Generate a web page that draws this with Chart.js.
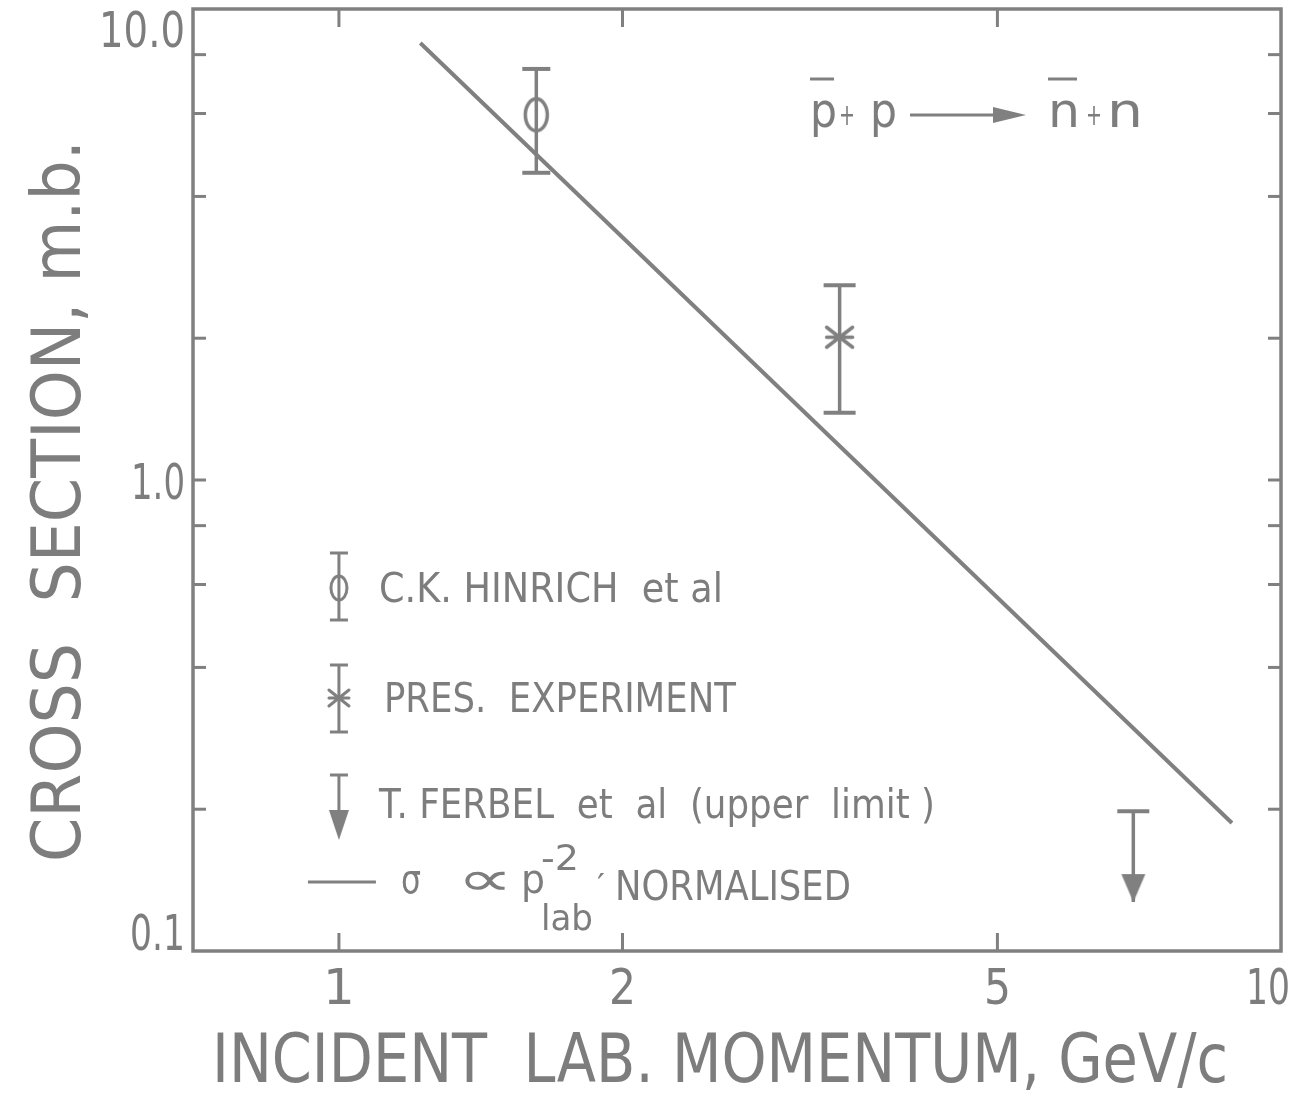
<!DOCTYPE html>
<html><head><meta charset="utf-8">
<script src="https://cdn.jsdelivr.net/npm/chart.js@4"></script>
<style>html,body{margin:0;padding:0;background:#fff}canvas{display:block}</style>
</head><body>
<canvas id="c" width="1289" height="1097"></canvas>
<script>
// ---- data ----
const hinrichP = [1.62];
const hinrichSigma = [5.96];
const hinrichLow = [4.49];
const hinrichHigh = [7.46];

const presP = [3.40];
const presSigma = [2.01];
const presLow = [1.39];
const presHigh = [2.59];

const ferbelP = [6.97];
const ferbelLimit = [0.198];
const ferbelArrowTip = [0.127];

const fitP = [1.22, 8.87];
const fitSigma = [8.47, 0.187];

const xTickValues = [1, 2, 5, 10];
const xTickLabels = ['1', '2', '5', '10'];
const yTickValues = [10, 1, 0.1];
const yTickLabels = ['10.0', '1.0', '0.1'];
const yFrameTicks = [0.2, 0.4, 0.6, 0.8, 1, 2, 4, 6, 8];
const xFrameTicks = [1, 2, 5];

const xTitle = 'INCIDENT  LAB. MOMENTUM, GeV/c';
const yTitle = 'CROSS  SECTION, m.b.';
const legendLabels = ['C.K. HINRICH  et al', 'PRES.  EXPERIMENT', 'T. FERBEL  et  al  (upper  limit )', 'NORMALISED'];

// ---- styling ----
const GRAY = '#808080';
const TXT = '#7d7d7d';
const FONT = '"DejaVu Sans"';

function makeEllipse(w, h, lw) {
  const c = document.createElement('canvas');
  c.width = w + lw * 2 + 2; c.height = h + lw * 2 + 2;
  const g = c.getContext('2d');
  g.strokeStyle = GRAY; g.lineWidth = lw;
  g.beginPath(); g.ellipse(c.width / 2, c.height / 2, w / 2, h / 2, 0, 0, Math.PI * 2); g.stroke();
  return c;
}
function makeAsterisk(w, h, lw) {
  const c = document.createElement('canvas');
  c.width = w + lw * 2 + 2; c.height = h + lw * 2 + 2;
  const g = c.getContext('2d');
  const cx = c.width / 2, cy = c.height / 2;
  g.strokeStyle = GRAY; g.lineWidth = lw; g.lineCap = 'round';
  g.beginPath();
  g.moveTo(cx - w / 2, cy - h / 2); g.lineTo(cx + w / 2, cy + h / 2);
  g.moveTo(cx + w / 2, cy - h / 2); g.lineTo(cx - w / 2, cy + h / 2);
  g.moveTo(cx - w / 2, cy); g.lineTo(cx + w / 2, cy);
  g.stroke();
  return c;
}
function makeArrow(w, h) {
  // tip lies at the canvas centre
  const c = document.createElement('canvas');
  c.width = w + 2; c.height = 2 * h + 2;
  const g = c.getContext('2d');
  const cy = c.height / 2;
  g.fillStyle = GRAY;
  g.beginPath(); g.moveTo(1, cy - h); g.lineTo(w + 1, cy - h); g.lineTo(w / 2 + 1, cy); g.closePath(); g.fill();
  return c;
}
const ellipseImg = makeEllipse(22, 32, 3.5);
const asteriskImg = makeAsterisk(26, 20, 3.5);
const arrowImg = makeArrow(24, 28);
const ellipseSmall = makeEllipse(16, 24, 3);
const asteriskSmall = makeAsterisk(20, 16, 3);
const arrowSmall = makeArrow(20, 30);

function errorData(P, lo, mid, hi) {
  return P.flatMap((p, i) => mid ? [{x: p, y: lo[i]}, {x: p, y: mid[i]}, {x: p, y: hi[i]}] : [{x: p, y: lo[i]}, {x: p, y: hi[i]}]);
}

function txt(ctx, s, x, y, size, w, align) {
  ctx.save();
  ctx.font = size + 'px ' + FONT;
  const m = ctx.measureText(s).width;
  const sx = w ? w / m : 1;
  ctx.translate(x, y);
  ctx.scale(sx, 1);
  ctx.textAlign = align || 'left';
  ctx.textBaseline = 'alphabetic';
  ctx.fillText(s, 0, 0);
  ctx.restore();
}
function seg(ctx, x1, y1, x2, y2) { ctx.beginPath(); ctx.moveTo(x1, y1); ctx.lineTo(x2, y2); ctx.stroke(); }

const decor = {
  id: 'decor',
  afterDraw(chart) {
    const {ctx, chartArea: a, scales: {x, y}} = chart;
    ctx.save();
    ctx.strokeStyle = GRAY; ctx.fillStyle = TXT;
    // frame
    ctx.lineWidth = 3.5;
    ctx.strokeRect(a.left, a.top, a.right - a.left, a.bottom - a.top);
    // inward ticks
    ctx.lineWidth = 3;
    yFrameTicks.forEach(v => {
      const py = y.getPixelForValue(v);
      seg(ctx, a.left, py, a.left + 13, py);
      seg(ctx, a.right, py, a.right - 13, py);
    });
    xFrameTicks.forEach(v => {
      const px = x.getPixelForValue(v);
      seg(ctx, px, a.bottom, px, a.bottom - 18);
      seg(ctx, px, a.top, px, a.top + 18);
    });
    // y tick labels
    const yW = [86, 54, 55];
    const yOff = [38, 19, -1];
    yTickValues.forEach((v, i) => {
      const py = y.getPixelForValue(v);
      txt(ctx, yTickLabels[i], a.left - 8, py + yOff[i], 50, yW[i], 'right');
    });
    // x tick labels
    const xW = [0, 27, 27, 44];
    const xOff = [0, 0, 0, -13];
    xTickValues.forEach((v, i) => {
      const px = x.getPixelForValue(v);
      txt(ctx, xTickLabels[i], px + xOff[i], a.bottom + 53, 50, xW[i] || null, 'center');
    });
    // axis titles
    txt(ctx, xTitle, 212, 1082, 68, 1016, 'left');
    ctx.save();
    ctx.translate(80, 862);
    ctx.rotate(-Math.PI / 2);
    txt(ctx, yTitle, 0, 0, 68, 722, 'left');
    ctx.restore();

    // reaction
    const rx = a.left, ry = a.top;
    ctx.lineWidth = 3;
    txt(ctx, 'p', rx + 617, ry + 118, 48, 27, 'left');
    seg(ctx, rx + 617, ry + 70, rx + 641, ry + 70);
    txt(ctx, '+', rx + 646, ry + 116, 30, 16, 'left');
    txt(ctx, 'p', rx + 677, ry + 118, 48, 27, 'left');
    seg(ctx, rx + 717, ry + 106, rx + 810, ry + 106);
    ctx.beginPath(); ctx.moveTo(rx + 800, ry + 98); ctx.lineTo(rx + 833, ry + 106); ctx.lineTo(rx + 800, ry + 114); ctx.closePath(); ctx.fillStyle = GRAY; ctx.fill();
    ctx.fillStyle = TXT;
    txt(ctx, 'n', rx + 855, ry + 118, 48, 32, 'left');
    seg(ctx, rx + 855, ry + 70, rx + 884, ry + 70);
    txt(ctx, '+', rx + 893, ry + 116, 30, 16, 'left');
    txt(ctx, 'n', rx + 914, ry + 118, 48, 36, 'left');

    // legend
    const lx = x.getPixelForValue(1);
    ctx.lineWidth = 3;
    // Hinrich
    seg(ctx, lx, 553, lx, 620);
    seg(ctx, lx - 9, 553, lx + 9, 553); seg(ctx, lx - 9, 620, lx + 9, 620);
    ctx.drawImage(ellipseSmall, lx - ellipseSmall.width / 2, 588 - ellipseSmall.height / 2);
    txt(ctx, legendLabels[0], lx + 40, 602, 40, 344, 'left');
    // Pres
    seg(ctx, lx, 665, lx, 732);
    seg(ctx, lx - 9, 665, lx + 9, 665); seg(ctx, lx - 9, 732, lx + 9, 732);
    ctx.drawImage(asteriskSmall, lx - asteriskSmall.width / 2, 698 - asteriskSmall.height / 2);
    txt(ctx, legendLabels[1], lx + 45, 712, 40, 352, 'left');
    // Ferbel
    seg(ctx, lx, 775, lx, 830);
    seg(ctx, lx - 9, 775, lx + 9, 775);
    ctx.drawImage(arrowSmall, lx - arrowSmall.width / 2, 840 - arrowSmall.height / 2);
    txt(ctx, legendLabels[2], lx + 40, 818, 40, 556, 'left');
    // fit line
    seg(ctx, lx - 31, 882, lx + 37, 882);
    txt(ctx, 'σ', lx + 62, 893, 40, 20, 'left');
    txt(ctx, '∝', lx + 118, 895, 48, 56, 'left');
    txt(ctx, 'p', lx + 182, 893, 40, 24, 'left');
    txt(ctx, '-2', lx + 202, 870, 36, 38, 'left');
    txt(ctx, 'lab', lx + 202, 930, 36, 52, 'left');
    txt(ctx, '\u2032', lx + 258, 895, 30, 8, 'left');
    txt(ctx, legendLabels[3], lx + 276, 900, 40, 236, 'left');
    ctx.restore();
  }
};

const ptStyleHinrich = [ 'line', ellipseImg, 'line' ];
const ptStylePres = [ 'line', asteriskImg, 'line' ];
const ptStyleFerbel = [ 'line', arrowImg ];

new Chart(document.getElementById('c'), {
  type: 'scatter',
  data: {
    datasets: [
      {
        label: 'fit',
        data: fitP.map((p, i) => ({x: p, y: fitSigma[i]})),
        showLine: true, borderColor: GRAY, borderWidth: 4, pointRadius: 0
      },
      {
        label: 'C.K. Hinrich et al',
        data: errorData(hinrichP, hinrichLow, hinrichSigma, hinrichHigh),
        showLine: true, borderColor: GRAY, borderWidth: 3.5,
        pointStyle: c => ptStyleHinrich[c.dataIndex % 3],
        pointRadius: c => (c.dataIndex % 3 === 1 ? 1 : 14),
        pointBorderWidth: 4, pointBorderColor: GRAY, pointBackgroundColor: 'rgba(0,0,0,0)'
      },
      {
        label: 'Pres. experiment',
        data: errorData(presP, presLow, presSigma, presHigh),
        showLine: true, borderColor: GRAY, borderWidth: 3.5,
        pointStyle: c => ptStylePres[c.dataIndex % 3],
        pointRadius: c => (c.dataIndex % 3 === 1 ? 1 : 16),
        pointBorderWidth: 4, pointBorderColor: GRAY, pointBackgroundColor: 'rgba(0,0,0,0)'
      },
      {
        label: 'T. Ferbel et al (upper limit)',
        data: errorData(ferbelP, ferbelLimit, null, ferbelArrowTip),
        showLine: true, borderColor: GRAY, borderWidth: 3.5,
        pointStyle: c => ptStyleFerbel[c.dataIndex % 2],
        pointRadius: c => (c.dataIndex % 2 === 1 ? 1 : 16),
        pointBorderWidth: 4, pointBorderColor: GRAY, pointBackgroundColor: 'rgba(0,0,0,0)'
      }
    ]
  },
  options: {
    responsive: false,
    animation: false,
    events: [],
    layout: { autoPadding: false, padding: { left: 193, right: 8, top: 9, bottom: 146 } },
    scales: {
      x: { type: 'logarithmic', min: 0.7, max: 10, display: false },
      y: { type: 'logarithmic', min: 0.1, max: 10, display: false }
    },
    plugins: { legend: { display: false }, tooltip: { enabled: false }, title: { display: false } }
  },
  plugins: [decor]
});
</script>
</body></html>
